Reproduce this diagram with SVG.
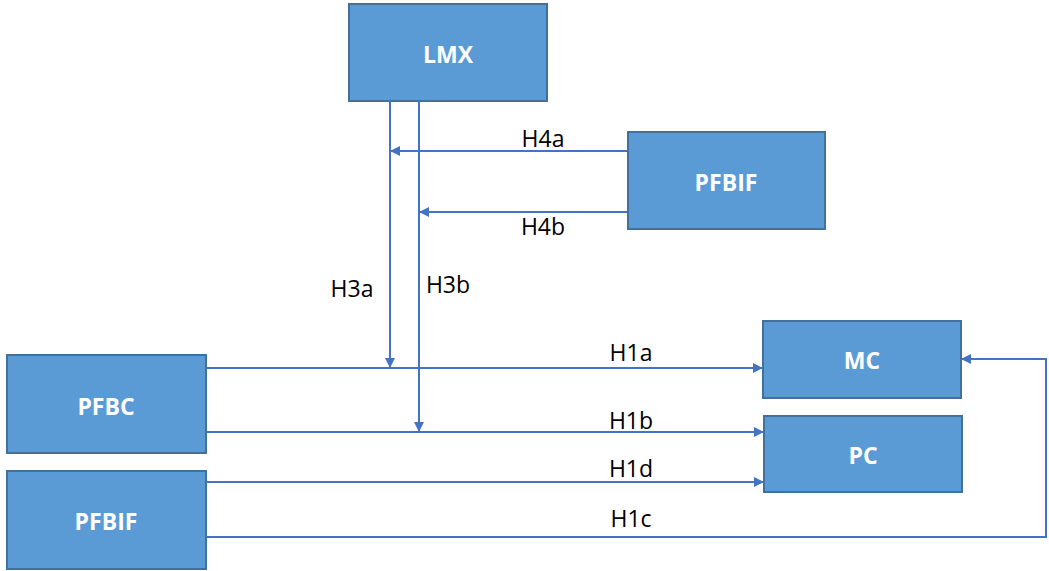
<svg xmlns="http://www.w3.org/2000/svg" width="1049" height="571" viewBox="0 0 1049 571">
  <style>
    .node rect { fill: #5B9BD5; stroke: #41719C; stroke-width: 2; }
    .node text { fill: #FFFFFF; font-family: "Open Sans", "Liberation Sans", sans-serif; font-weight: bold; font-size: 23px; text-anchor: middle; dominant-baseline: central; }
    .edge { fill: none; stroke: #4472C4; stroke-width: 2; }
    .lbl { fill: #000000; font-family: "Open Sans", "Liberation Sans", sans-serif; font-size: 23px; text-anchor: middle; }
  </style>
  <defs>
    <marker id="arrow" viewBox="0 0 10 10" refX="10" refY="5" markerWidth="5" markerHeight="5" markerUnits="strokeWidth" orient="auto">
      <path d="M0,0 L10,5 L0,10 z" fill="#4472C4"/>
    </marker>
  </defs>
  <rect width="1049" height="571" fill="#FFFFFF"/>

  <g id="connectors">
    <!-- LMX down-links -->
    <path class="edge" d="M390,101 V368" marker-end="url(#arrow)"/>
    <path class="edge" d="M419,101 V432" marker-end="url(#arrow)"/>
    <!-- PFBIF (top) to LMX links -->
    <path class="edge" d="M628,151 H390" marker-end="url(#arrow)"/>
    <path class="edge" d="M628,212 H419" marker-end="url(#arrow)"/>
    <!-- PFBC outputs -->
    <path class="edge" d="M206,368 H763" marker-end="url(#arrow)"/>
    <path class="edge" d="M206,432 H764" marker-end="url(#arrow)"/>
    <!-- PFBIF (bottom) outputs -->
    <path class="edge" d="M206,482 H764" marker-end="url(#arrow)"/>
    <path class="edge" d="M206,537 H1046 V359 H961" marker-end="url(#arrow)"/>
  </g>

  <g id="labels">
    <text class="lbl" x="543" y="147">H4a</text>
    <text class="lbl" x="543" y="235">H4b</text>
    <text class="lbl" x="352" y="297">H3a</text>
    <text class="lbl" x="448" y="293">H3b</text>
    <text class="lbl" x="631" y="361">H1a</text>
    <text class="lbl" x="631" y="429">H1b</text>
    <text class="lbl" x="631" y="477">H1d</text>
    <text class="lbl" x="631" y="527">H1c</text>
  </g>

  <g id="node-lmx" class="node">
    <rect x="349" y="4" width="198" height="97"/>
    <text x="448" y="54">LMX</text>
  </g>
  <g id="node-pfbif-top" class="node">
    <rect x="628" y="132" width="197" height="97"/>
    <text x="726" y="182">PFBIF</text>
  </g>
  <g id="node-pfbc" class="node">
    <rect x="7" y="355" width="199" height="98"/>
    <text x="106" y="406">PFBC</text>
  </g>
  <g id="node-pfbif-bottom" class="node">
    <rect x="7" y="471" width="199" height="98"/>
    <text x="106" y="521">PFBIF</text>
  </g>
  <g id="node-mc" class="node">
    <rect x="763" y="321" width="198" height="77"/>
    <text x="862" y="360">MC</text>
  </g>
  <g id="node-pc" class="node">
    <rect x="764" y="416" width="198" height="76"/>
    <text x="863" y="455">PC</text>
  </g>
</svg>
